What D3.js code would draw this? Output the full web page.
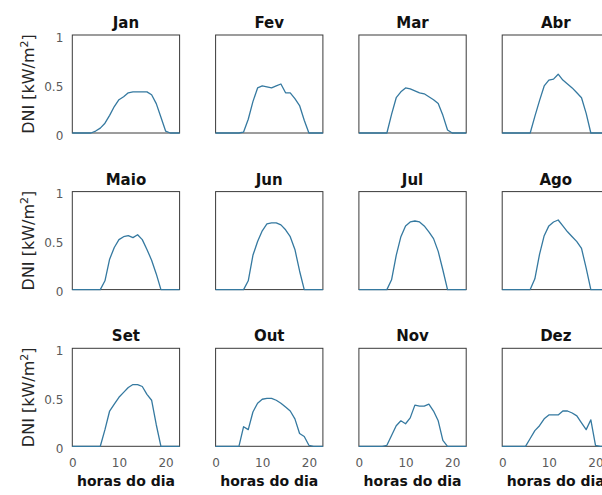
<!DOCTYPE html>
<html>
<head>
<meta charset="utf-8">
<script src="https://cdn.jsdelivr.net/npm/d3@7"></script>
<style>
  html, body { margin: 0; padding: 0; background: #ffffff; overflow: hidden; }
  svg { display: block; }
</style>
</head>
<body>
<svg id="chart" width="602" height="495"></svg>
<script>
// ---- data ----
const months = ["Jan", "Fev", "Mar", "Abr", "Maio", "Jun", "Jul", "Ago", "Set", "Out", "Nov", "Dez"];
const hours = [0, 1, 2, 3, 4, 5, 6, 7, 8, 9, 10, 11, 12, 13, 14, 15, 16, 17, 18, 19, 20, 21, 22, 23];
const jan  = [0, 0, 0, 0, 0, 0.02, 0.05, 0.10, 0.18, 0.27, 0.34, 0.37, 0.41, 0.42, 0.42, 0.42, 0.42, 0.39, 0.30, 0.16, 0.02, 0, 0, 0];
const fev  = [0, 0, 0, 0, 0, 0, 0.01, 0.14, 0.32, 0.46, 0.48, 0.47, 0.46, 0.48, 0.50, 0.41, 0.41, 0.35, 0.28, 0.13, 0, 0, 0, 0];
const mar  = [0, 0, 0, 0, 0, 0, 0, 0.19, 0.36, 0.42, 0.46, 0.45, 0.43, 0.41, 0.40, 0.37, 0.34, 0.30, 0.18, 0.03, 0, 0, 0, 0];
const abr  = [0, 0, 0, 0, 0, 0, 0, 0.17, 0.33, 0.48, 0.54, 0.55, 0.60, 0.54, 0.50, 0.46, 0.41, 0.36, 0.20, 0, 0, 0, 0, 0];
const maio = [0, 0, 0, 0, 0, 0, 0, 0.09, 0.31, 0.43, 0.51, 0.54, 0.55, 0.53, 0.56, 0.51, 0.41, 0.30, 0.16, 0, 0, 0, 0, 0];
const jun  = [0, 0, 0, 0, 0, 0, 0, 0.09, 0.35, 0.49, 0.60, 0.67, 0.68, 0.68, 0.66, 0.61, 0.54, 0.41, 0.19, 0, 0, 0, 0, 0];
const jul  = [0, 0, 0, 0, 0, 0, 0, 0.10, 0.35, 0.54, 0.65, 0.69, 0.70, 0.69, 0.65, 0.59, 0.52, 0.39, 0.20, 0, 0, 0, 0, 0];
const ago  = [0, 0, 0, 0, 0, 0, 0, 0.11, 0.36, 0.55, 0.65, 0.69, 0.71, 0.65, 0.59, 0.54, 0.49, 0.42, 0.22, 0, 0, 0, 0, 0];
const set  = [0, 0, 0, 0, 0, 0, 0, 0.17, 0.36, 0.43, 0.50, 0.55, 0.60, 0.63, 0.63, 0.61, 0.53, 0.47, 0.22, 0, 0, 0, 0, 0];
const out  = [0, 0, 0, 0, 0, 0, 0.20, 0.17, 0.35, 0.44, 0.48, 0.49, 0.49, 0.47, 0.44, 0.40, 0.36, 0.28, 0.13, 0.10, 0.01, 0, 0, 0];
const nov  = [0, 0, 0, 0, 0, 0, 0.01, 0.11, 0.21, 0.26, 0.23, 0.29, 0.42, 0.41, 0.41, 0.43, 0.36, 0.26, 0.06, 0, 0, 0, 0, 0];
const dez  = [0, 0, 0, 0, 0, 0, 0.08, 0.16, 0.21, 0.28, 0.32, 0.32, 0.32, 0.36, 0.36, 0.34, 0.31, 0.24, 0.17, 0.27, 0.01, 0, 0, 0];
const series = [jan, fev, mar, abr, maio, jun, jul, ago, set, out, nov, dez];
const yTicks = [0, 0.5, 1];
const xTicks = [0, 10, 20];
const yLabel = "DNI [kW/m";
const xLabel = "horas do dia";

// ---- layout ----
const svg = d3.select("#chart");
const colX = [72.3, 215.6, 358.9, 502.2];
const rowY = [35, 191.6, 348.3];
const pw = 107.3, ph = 98;
const font = "'DejaVu Sans', sans-serif";

const x = d3.scaleLinear().domain([0, 23]).range([0, pw]);
const y = d3.scaleLinear().domain([0, 1]).range([ph, 0]);
const line = d3.line().x((d, i) => x(hours[i])).y(d => y(d));

months.forEach((m, k) => {
  const r = Math.floor(k / 4), c = k % 4;
  const g = svg.append("g").attr("transform", `translate(${colX[c]},${rowY[r]})`);

  // box
  g.append("rect").attr("x", 0).attr("y", 0).attr("width", pw).attr("height", ph)
    .attr("fill", "none").attr("stroke", "#3a3a3a").attr("stroke-width", 1);

  // y axis labels (first column)
  if (c === 0) {
    const ay = g.append("g").call(d3.axisLeft(y).tickValues(yTicks).tickSize(0).tickPadding(9)
      .tickFormat(d3.format("")));
    ay.select(".domain").remove();
    ay.selectAll("text").attr("font-family", font).attr("font-size", 12).attr("fill", "#5a5a5a")
      .attr("transform", "translate(0,2.5)");
    const t = g.append("text").attr("transform", `translate(${34 - colX[0]},${ph / 2}) rotate(-90)`)
      .attr("text-anchor", "middle").attr("font-family", font).attr("font-size", 16).attr("fill", "#262626");
    t.append("tspan").text(yLabel);
    t.append("tspan").attr("dy", -6).attr("font-size", 11).text("2");
    t.append("tspan").attr("dy", 6).text("]");
  }
  // x axis labels (bottom row)
  if (r === 2) {
    const ax = g.append("g").attr("transform", `translate(0,${ph})`)
      .call(d3.axisBottom(x).tickValues(xTicks).tickSize(0).tickPadding(12.5));
    ax.select(".domain").remove();
    ax.selectAll("text").attr("font-family", font).attr("font-size", 12).attr("fill", "#5a5a5a");
    g.append("text").attr("x", pw / 2).attr("y", ph + 40).attr("text-anchor", "middle")
      .attr("font-family", font).attr("font-size", 14).attr("font-weight", "bold").attr("fill", "#111")
      .text(xLabel);
  }

  // title
  g.append("text").attr("x", pw / 2).attr("y", -7).attr("text-anchor", "middle")
    .attr("font-family", font).attr("font-size", 15).attr("font-weight", "bold").attr("fill", "#111")
    .text(m);

  // curve
  g.append("path").datum(series[k]).attr("d", line)
    .attr("fill", "none").attr("stroke", "#3579a0").attr("stroke-width", 1.3)
    .attr("stroke-linejoin", "round");
});
</script>
</body>
</html>
